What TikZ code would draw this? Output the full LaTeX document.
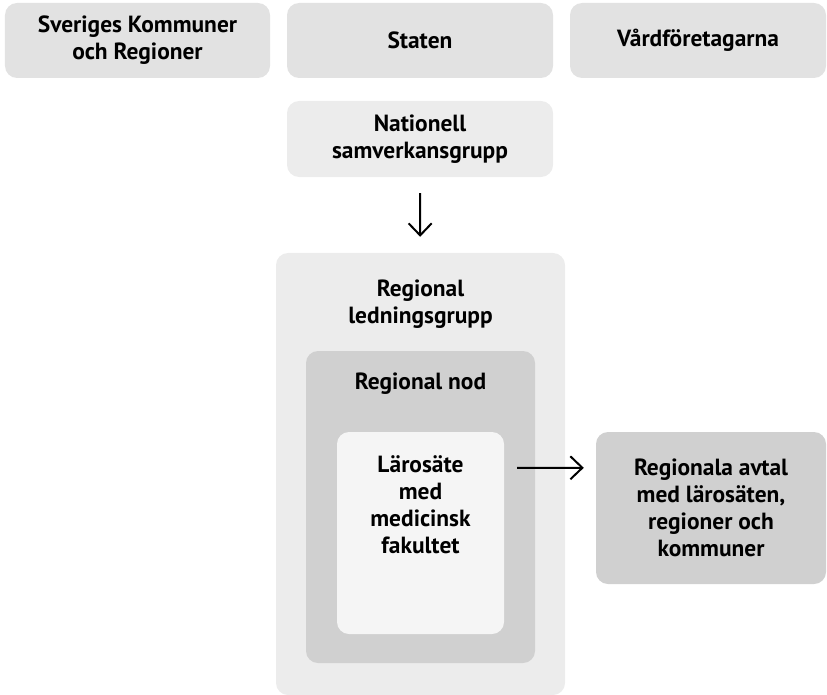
\documentclass[tikz,border=0pt]{standalone}
\usepackage{fontspec}
\setmainfont{PT Sans}
\usetikzlibrary{arrows.meta,positioning}
\definecolor{topgray}{HTML}{E2E2E2}
\definecolor{lightgray}{HTML}{ECECEC}
\definecolor{midgray}{HTML}{D0D0D0}
\definecolor{palegray}{HTML}{F5F5F5}
\tikzset{
  box/.style={rounded corners=12bp, inner sep=0pt, align=center},
  lbl/.style={align=center, inner sep=0pt, font=\bfseries\fontsize{23.5}{27}\selectfont},
  arr/.style={-{Straight Barb[length=12bp,width=23bp]}, line width=2bp},
}
\begin{document}
\begin{tikzpicture}[x=1bp,y=-1bp]
  \useasboundingbox (0,0) rectangle (827,695);
  % top row
  \node[box, lbl, fill=topgray, minimum width=265bp, minimum height=75bp] (skr) at (137.5,40.5) {Sveriges Kommuner\\och Regioner};
  \node[box, lbl, fill=topgray, minimum width=266bp, minimum height=75bp] (staten) at (420,40.5) {Staten};
  \node[box, lbl, fill=topgray, minimum width=256bp, minimum height=75bp] (vard) at (698,40.5) {Vårdföretagarna};
  \node[box, lbl, fill=lightgray, minimum width=266bp, minimum height=76bp] (nat) at (420,139) {Nationell\\samverkansgrupp};
  % nested boxes
  \node[box, fill=lightgray, minimum width=289bp, minimum height=442bp] (led) at (420.5,474) {};
  \node[lbl, below=27bp of led.north] (ledtxt) {Regional\\ledningsgrupp};
  \node[box, fill=midgray, minimum width=229bp, minimum height=312bp] (nod) at (420.5,507) {};
  \node[lbl, below=22bp of nod.north] (nodtxt) {Regional nod};
  \node[box, fill=palegray, minimum width=167bp, minimum height=202bp] (laro) at (420.5,533) {};
  \node[lbl, below=24bp of laro.north] (larotxt) {Lärosäte\\med\\medicinsk\\fakultet};
  \node[box, lbl, fill=midgray, minimum width=230bp, minimum height=152bp] (avtal) at (711,508) {Regionala avtal\\med lärosäten,\\regioner och\\kommuner};
  % arrows
  \draw[arr, shorten <=16bp, shorten >=16bp] (nat) -- (led);
  \draw[arr, shorten <=13bp, shorten >=12bp] ([yshift=-36bp]laro.north east) -- ([yshift=-36bp]avtal.north west);
\end{tikzpicture}
\end{document}
